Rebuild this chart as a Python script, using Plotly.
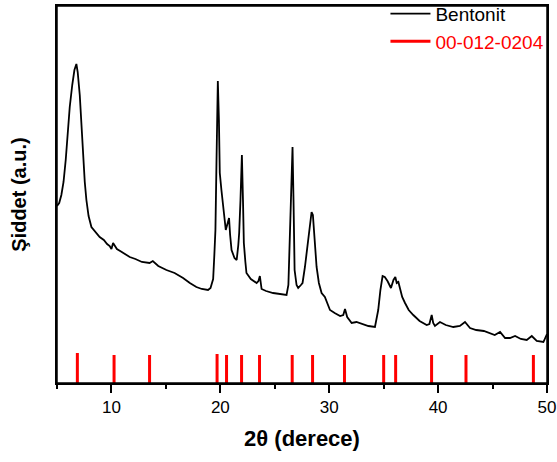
import plotly.graph_objects as go

# Bentonit XRD pattern (2θ in degrees, intensity in arbitrary units)
two_theta = [5.0, 5.06, 5.2, 5.4, 5.6, 5.8, 6.0, 6.17, 6.4, 6.6, 6.78, 6.9, 7.09, 7.25, 7.39, 7.55, 7.7, 7.9,
             8.16, 8.5, 8.92, 9.3, 9.6, 9.84, 10.0, 10.15, 10.3, 10.5, 10.8, 11.2, 11.68, 12.2, 12.8, 13.5,
             13.8, 14.3, 15.05, 15.8, 16.58, 17.2, 17.8, 18.3, 18.87, 19.1, 19.34, 19.45, 19.55, 19.65,
             19.77, 19.87, 19.95, 20.1, 20.26, 20.4, 20.5, 20.65, 20.8, 20.9, 21.03, 21.3, 21.5, 21.65,
             21.73, 21.85, 21.98, 22.08, 22.16, 22.3, 22.4, 22.8, 23.33, 23.5, 23.63, 23.79, 24.2, 24.85,
             25.5, 26.08, 26.25, 26.4, 26.55, 26.63, 26.72, 26.82, 27.0, 27.15, 27.4, 27.55, 27.77, 28.0,
             28.2, 28.38, 28.5, 28.65, 28.84, 29.05, 29.3, 29.6, 29.8, 30.07, 30.5, 31.0, 31.29, 31.45,
             31.65, 32.06, 32.5, 33.12, 33.6, 34.2, 34.35, 34.5, 34.7, 34.9, 35.1, 35.35, 35.67, 35.9,
             36.07, 36.2, 36.35, 36.5, 36.7, 36.96, 37.3, 37.72, 38.3, 38.95, 39.2, 39.41, 39.55, 39.71,
             40.17, 40.7, 41.4, 42.0, 42.47, 42.93, 43.5, 44.2, 44.77, 45.2, 45.69, 46.15, 46.6, 47.07,
             47.6, 48.14, 48.6, 49.06, 49.67, 49.92, 50.0]
intensity = [177, 178, 180, 188, 201, 223, 253, 276, 298, 313, 319, 311, 288, 258, 226, 201, 183, 167,
             156, 151, 146, 143, 139, 137, 134, 140, 137, 134, 132, 129, 126, 124, 121, 120,
             122, 117, 113, 110, 105, 100, 96, 94, 93, 95, 104, 128, 153, 223,
             302, 263, 210, 193, 180, 163, 153, 158, 165, 148, 133, 125, 123, 138,
             150, 183, 228, 183, 140, 121, 110, 104, 100, 102, 107, 94, 92, 90,
             89, 88, 98, 153, 213, 236, 183, 113, 98, 95, 98, 100, 116, 138,
             158, 171, 168, 143, 116, 100, 90, 86, 80, 73, 70, 67, 68, 74,
             66, 60, 61, 59, 57, 56, 63, 73, 93, 107, 106, 102, 95, 103,
             106, 100, 101, 95, 86, 80, 73, 68, 62, 58, 59, 68, 60, 57,
             61, 58, 56, 57, 61, 55, 53, 52, 50, 48, 51, 45, 45, 47,
             44, 43, 47, 42, 41, 47, 49]

# Reference card 00-012-0204 stick positions and heights
ref_pos = [6.87, 10.24, 13.5, 19.7, 20.57, 21.95, 23.6, 26.6, 28.47, 31.4, 35.0, 36.1, 39.4, 42.56, 48.75]
ref_height = [30, 28, 28, 29, 28, 28, 28, 28, 28, 28, 28, 28, 28, 28, 28]

x_ticks = [10, 20, 30, 40, 50]

stick_x, stick_y = [], []
for p, h in zip(ref_pos, ref_height):
    stick_x += [p, p, None]
    stick_y += [0, h, None]

fig = go.Figure()
fig.add_trace(go.Scatter(x=two_theta, y=intensity, mode="lines", name="Bentonit",
                         line=dict(color="black", width=1.8)))
fig.add_trace(go.Scatter(x=stick_x, y=stick_y, mode="lines",
                         name='<span style="color:#ff0000">00-012-0204</span>',
                         line=dict(color="#ff0000", width=3)))

# plot frame
fig.add_shape(type="rect", xref="paper", yref="paper", x0=0, y0=0, x1=1, y1=1,
              line=dict(color="black", width=1.5), layer="above")

font_family = "Liberation Sans, Arial, sans-serif"
fig.update_layout(
    width=557, height=462,
    margin=dict(l=57, r=10, t=6, b=79, autoexpand=False),
    paper_bgcolor="white", plot_bgcolor="white",
    font=dict(family=font_family, color="black"),
    showlegend=True,
    legend=dict(x=1.005, xanchor="right", y=1.03, yanchor="top", bgcolor="rgba(0,0,0,0)",
                font=dict(size=19, family=font_family), itemwidth=40, tracegroupgap=0),
    xaxis=dict(range=[5, 50], tickvals=x_ticks, ticks="outside", ticklen=8, tickwidth=1.5,
               tickcolor="black", showline=True, linecolor="black", linewidth=1.5, mirror=True,
               showgrid=False, zeroline=False, tickfont=dict(size=17), automargin=False,
               minor=dict(tickvals=[5, 15, 25, 35, 45], ticks="outside", ticklen=4, tickwidth=1.5,
                          tickcolor="black"),
               title=dict(text="<b>2θ (derece)</b>", font=dict(size=22), standoff=14)),
    yaxis=dict(range=[0, 377], showticklabels=False, ticks="", showline=True, linecolor="black",
               linewidth=1.5, mirror=True, showgrid=False, zeroline=False, automargin=False,
               title=dict(text="<b>Şiddet (a.u.)</b>", font=dict(size=20), standoff=23)),
)

fig.write_html("out.html", config={"displayModeBar": False},
               post_script="document.body.style.margin='0';")
